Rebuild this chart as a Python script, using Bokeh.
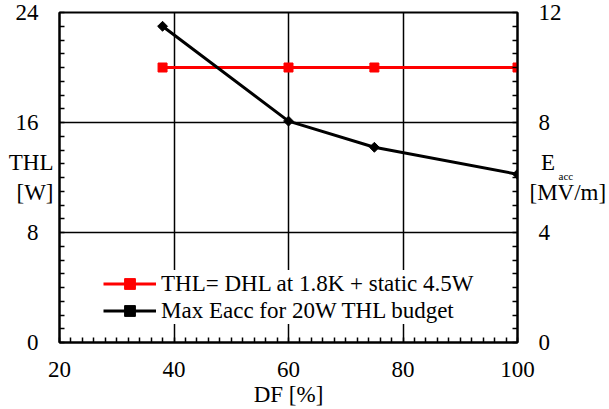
from bokeh.plotting import figure
from bokeh.models import (Range1d, LinearAxis, FixedTicker, Label, Legend, LegendItem)
from bokeh.embed import file_html
from bokeh.resources import INLINE
import numpy as np

# ---- data ----
df_pct = [38, 60, 75, 100]
thl_w = [20, 20, 20, 20]
eacc_mvm = [11.5, 8.05, 7.1, 6.12]

x_ticks = [20, 40, 60, 80, 100]
y_left_ticks = [0, 8, 16, 24]
y_right_ticks = [0, 4, 8, 12]

label_red = "THL= DHL at 1.8K + static 4.5W"
label_black = "Max Eacc for 20W THL budget"
title_left = "THL\n[W]"
title_right = "\u00a0\u00a0E\n[MV/m]"
title_right_sub = "acc"
title_bottom = "DF [%]"

FONT = "Liberation Serif"
FS = "23px"

p = figure(width=609, height=409, output_backend="svg", toolbar_location=None,
           x_range=Range1d(20, 100), y_range=Range1d(0, 24),
           min_border_left=59, min_border_right=90, min_border_top=12, min_border_bottom=66,
           x_axis_location=None, y_axis_location=None)
p.extra_y_ranges = {"right": Range1d(0, 12)}
p.background_fill_color = "white"
p.border_fill_color = "white"
p.outline_line_color = "black"
p.outline_line_width = 2

# axes
xax = LinearAxis(ticker=FixedTicker(ticks=x_ticks, minor_ticks=list(range(20, 101, 2))),
                 axis_label=title_bottom, axis_label_standoff=2)
yl = LinearAxis(ticker=FixedTicker(ticks=y_left_ticks, minor_ticks=list(range(0, 25))),
                axis_label=title_left, axis_label_orientation="horizontal",
                axis_label_standoff=-41)
yr = LinearAxis(y_range_name="right",
                ticker=FixedTicker(ticks=y_right_ticks, minor_ticks=list(np.arange(0, 12.01, 0.5))),
                axis_label=title_right, axis_label_orientation="horizontal",
                axis_label_standoff=-35)
for ax in (xax, yl, yr):
    ax.axis_line_color = "black"
    ax.axis_line_width = 2
    ax.major_tick_in = 0
    ax.major_tick_out = 0
    ax.minor_tick_in = 5
    ax.minor_tick_out = 0
    ax.minor_tick_line_color = "black"
    ax.minor_tick_line_width = 1.5
    ax.major_label_text_font = FONT
    ax.major_label_text_font_size = FS
    ax.major_label_text_color = "black"
    ax.major_label_standoff = 21
    ax.axis_label_text_font = FONT
    ax.axis_label_text_font_size = FS
    ax.axis_label_text_font_style = "normal"
    ax.axis_label_text_color = "black"
xax.major_label_standoff = 19
p.add_layout(xax, "below")
p.add_layout(yl, "left")
p.add_layout(yr, "right")

# grids
p.xgrid.ticker = FixedTicker(ticks=x_ticks)
p.ygrid.ticker = FixedTicker(ticks=y_left_ticks)
for g in (p.xgrid, p.ygrid):
    g.grid_line_color = "black"
    g.grid_line_width = 1.5

# series
r_line = p.line(df_pct, thl_w, line_color="#ff0000", line_width=3)
r_mark = p.scatter(df_pct, thl_w, marker="square", size=9, fill_color="#ff0000", line_color="#ff0000")
b_line = p.line(df_pct, eacc_mvm, y_range_name="right", line_color="black", line_width=3)
b_mark = p.scatter(df_pct, eacc_mvm, y_range_name="right", marker="square", angle=np.pi / 4,
                   size=7, fill_color="black", line_color="black")

legend = Legend(items=[LegendItem(label=label_red, renderers=[r_line, r_mark]),
                       LegendItem(label=label_black, renderers=[b_line, b_mark])],
                location=(44, 18))
legend.label_text_font = FONT
legend.label_text_font_size = FS
legend.label_text_color = "black"
legend.glyph_width = 53
legend.glyph_height = 27
legend.label_height = 27
legend.label_standoff = 5
legend.spacing = 0
legend.padding = 3
legend.margin = 0
legend.border_line_color = None
legend.background_fill_color = "white"
legend.background_fill_alpha = 1
p.add_layout(legend, "center")

# subscript of E_acc (side-panel label, placed in canvas coordinates)
p.add_layout(Label(x=558, y=175, x_units="canvas", y_units="canvas", text=title_right_sub,
                   text_font=FONT, text_font_size="11px", text_color="black",
                   text_align="left", text_baseline="alphabetic"), "above")

open("out.html", "w").write(file_html(p, INLINE))
